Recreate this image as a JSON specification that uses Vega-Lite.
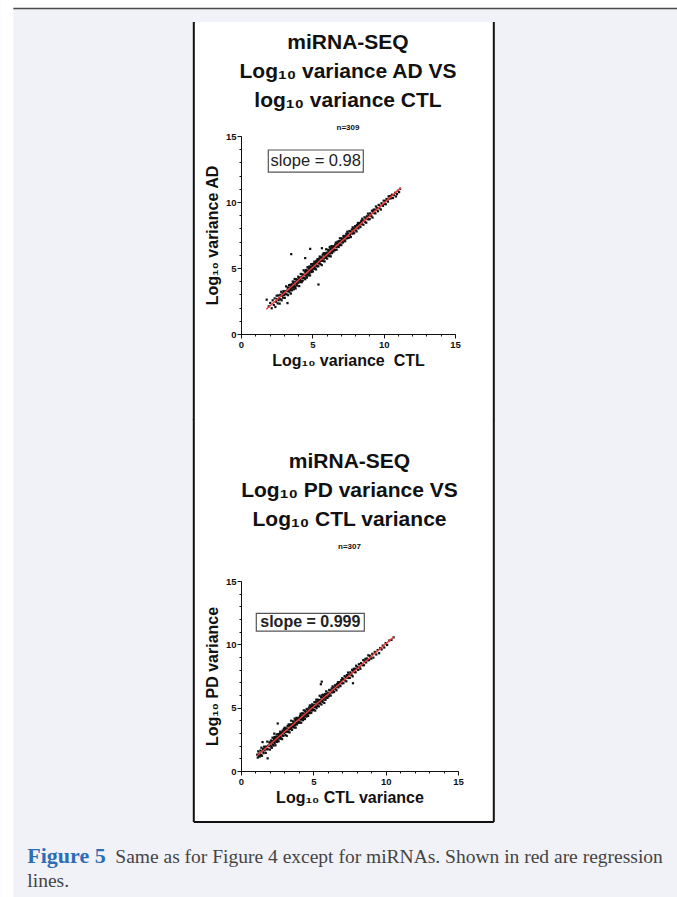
{
"$schema": "https://vega.github.io/schema/vega-lite/v6.json",
"background": "#f1f2f7",
"padding": 0,
"config": {
  "view": {"stroke": null},
  "font": "Liberation Sans",
  "axis": {"grid": false, "domainColor": "#111", "tickColor": "#111", "labelColor": "#111", "titleColor": "#111", "labelFont": "Liberation Sans", "labelFontSize": 9.5, "labelFontWeight": "bold", "titleFont": "Liberation Sans", "titleFontSize": 16, "titleFontWeight": "bold", "labelFlush": false, "domainWidth": 1, "tickWidth": 1}
},
"datasets": {
"ad": [
{"x":1.80,"y":2.60},{"x":1.95,"y":2.10},{"x":2.05,"y":2.35},{"x":2.15,"y":1.95},{"x":2.22,"y":2.55},{"x":2.30,"y":2.20},{"x":2.36,"y":2.70},{"x":2.41,"y":2.05},{"x":2.46,"y":2.45},{"x":2.50,"y":2.90},
{"x":2.53,"y":2.65},{"x":2.57,"y":2.32},{"x":2.61,"y":2.92},{"x":2.64,"y":2.56},{"x":2.68,"y":2.73},{"x":2.71,"y":2.30},{"x":2.75,"y":2.97},{"x":2.78,"y":2.63},{"x":2.82,"y":3.20},{"x":2.85,"y":2.55},{"x":2.88,"y":2.90},{"x":2.92,"y":3.09},{"x":2.95,"y":2.75},{"x":2.98,"y":3.25},{"x":3.01,"y":2.96},{"x":3.04,"y":3.13},{"x":3.07,"y":2.74},{"x":3.10,"y":3.24},{"x":3.13,"y":3.02},{"x":3.16,"y":3.61},{"x":3.19,"y":3.01},{"x":3.22,"y":3.29},{"x":3.25,"y":3.23},{"x":3.27,"y":3.51},{"x":3.30,"y":2.94},{"x":3.32,"y":3.51},{"x":3.35,"y":3.26},{"x":3.37,"y":3.70},{"x":3.40,"y":3.16},{"x":3.42,"y":3.46},{"x":3.44,"y":3.72},{"x":3.46,"y":3.33},{"x":3.48,"y":3.58},{"x":3.50,"y":3.06},{"x":3.52,"y":3.68},
{"x":3.54,"y":3.48},{"x":3.56,"y":3.77},{"x":3.58,"y":3.31},{"x":3.61,"y":3.62},{"x":3.63,"y":3.98},{"x":3.65,"y":3.53},{"x":3.67,"y":3.92},{"x":3.70,"y":3.39},{"x":3.72,"y":3.80},{"x":3.74,"y":3.69},{"x":3.76,"y":4.17},{"x":3.79,"y":3.57},{"x":3.81,"y":3.96},{"x":3.83,"y":3.45},{"x":3.85,"y":4.15},{"x":3.88,"y":3.86},{"x":3.90,"y":3.73},{"x":3.92,"y":4.12},{"x":3.94,"y":3.67},{"x":3.97,"y":4.02},{"x":3.99,"y":3.90},{"x":4.01,"y":4.34},{"x":4.03,"y":3.89},{"x":4.06,"y":4.17},{"x":4.08,"y":3.63},{"x":4.10,"y":4.28},{"x":4.12,"y":4.05},{"x":4.15,"y":4.17},{"x":4.17,"y":3.93},{"x":4.19,"y":4.55},{"x":4.21,"y":4.02},{"x":4.24,"y":4.33},{"x":4.26,"y":3.93},{"x":4.28,"y":4.52},{"x":4.30,"y":4.26},{"x":4.33,"y":4.05},{"x":4.35,"y":4.48},{"x":4.37,"y":4.27},{"x":4.39,"y":4.83},{"x":4.41,"y":4.25},{"x":4.43,"y":4.49},{"x":4.45,"y":4.24},{"x":4.47,"y":4.74},{"x":4.49,"y":4.48},{"x":4.50,"y":4.15},
{"x":4.52,"y":4.70},{"x":4.54,"y":4.47},{"x":4.56,"y":4.85},{"x":4.58,"y":4.36},{"x":4.60,"y":4.64},{"x":4.62,"y":4.27},{"x":4.64,"y":4.77},{"x":4.66,"y":5.06},{"x":4.68,"y":4.52},{"x":4.70,"y":4.78},{"x":4.72,"y":4.44},{"x":4.74,"y":4.95},{"x":4.76,"y":4.73},{"x":4.78,"y":5.10},{"x":4.80,"y":4.61},{"x":4.82,"y":4.93},{"x":4.84,"y":4.44},{"x":4.86,"y":5.11},{"x":4.88,"y":4.79},{"x":4.90,"y":4.96},{"x":4.92,"y":5.29},{"x":4.94,"y":4.69},{"x":4.96,"y":5.11},{"x":4.98,"y":4.86},{"x":5.00,"y":5.02},{"x":5.02,"y":5.30},{"x":5.04,"y":4.73},{"x":5.06,"y":5.15},{"x":5.08,"y":5.03},{"x":5.10,"y":5.32},{"x":5.12,"y":4.94},{"x":5.14,"y":5.48},{"x":5.16,"y":5.08},{"x":5.18,"y":5.30},{"x":5.20,"y":4.94},{"x":5.22,"y":5.41},{"x":5.24,"y":5.27},{"x":5.26,"y":4.89},{"x":5.28,"y":5.54},{"x":5.30,"y":5.16},{"x":5.32,"y":5.39},{"x":5.34,"y":5.13},{"x":5.36,"y":5.67},{"x":5.38,"y":5.36},{"x":5.40,"y":5.56},{"x":5.42,"y":5.13},{"x":5.44,"y":5.54},{"x":5.46,"y":5.35},{"x":5.48,"y":5.71},{"x":5.50,"y":5.44},
{"x":5.52,"y":5.87},{"x":5.54,"y":5.55},{"x":5.57,"y":5.30},{"x":5.59,"y":5.80},{"x":5.61,"y":5.55},{"x":5.63,"y":5.79},{"x":5.66,"y":5.22},{"x":5.68,"y":5.78},{"x":5.70,"y":5.57},{"x":5.72,"y":6.00},{"x":5.75,"y":5.79},{"x":5.77,"y":5.53},{"x":5.79,"y":6.12},{"x":5.81,"y":5.72},{"x":5.84,"y":6.03},{"x":5.86,"y":5.50},{"x":5.88,"y":6.12},{"x":5.90,"y":5.88},{"x":5.93,"y":6.00},{"x":5.95,"y":5.77},{"x":5.97,"y":6.42},{"x":5.99,"y":5.88},{"x":6.02,"y":6.16},{"x":6.04,"y":5.71},{"x":6.06,"y":6.15},{"x":6.08,"y":6.03},{"x":6.11,"y":6.38},{"x":6.13,"y":5.93},{"x":6.15,"y":6.32},{"x":6.17,"y":6.19},{"x":6.20,"y":5.90},{"x":6.22,"y":6.60},{"x":6.24,"y":6.09},{"x":6.26,"y":6.48},{"x":6.29,"y":5.88},{"x":6.31,"y":6.36},{"x":6.33,"y":6.25},{"x":6.35,"y":6.66},{"x":6.38,"y":6.13},{"x":6.40,"y":6.52},{"x":6.42,"y":6.62},{"x":6.44,"y":6.30},{"x":6.46,"y":6.52},{"x":6.48,"y":6.25},{"x":6.50,"y":6.65},
{"x":6.53,"y":6.39},{"x":6.55,"y":6.61},{"x":6.58,"y":6.35},{"x":6.60,"y":6.78},{"x":6.63,"y":6.60},{"x":6.65,"y":6.93},{"x":6.68,"y":6.58},{"x":6.70,"y":6.38},{"x":6.73,"y":6.86},{"x":6.75,"y":6.69},{"x":6.78,"y":7.00},{"x":6.80,"y":6.63},{"x":6.83,"y":6.85},{"x":6.85,"y":6.59},{"x":6.88,"y":7.03},{"x":6.90,"y":6.81},{"x":6.93,"y":7.25},{"x":6.95,"y":6.75},{"x":6.98,"y":7.05},{"x":7.00,"y":6.95},{"x":7.03,"y":6.73},{"x":7.05,"y":7.25},{"x":7.08,"y":6.96},{"x":7.10,"y":7.20},{"x":7.13,"y":7.11},{"x":7.15,"y":6.93},{"x":7.18,"y":7.43},{"x":7.20,"y":7.13},{"x":7.23,"y":7.27},{"x":7.25,"y":7.07},{"x":7.28,"y":7.42},{"x":7.30,"y":7.03},{"x":7.33,"y":7.39},{"x":7.35,"y":7.25},{"x":7.38,"y":7.59},{"x":7.40,"y":7.25},{"x":7.43,"y":7.41},{"x":7.45,"y":7.75},{"x":7.48,"y":7.27},{"x":7.50,"y":7.61},
{"x":7.53,"y":7.58},{"x":7.57,"y":7.30},{"x":7.60,"y":7.80},{"x":7.63,"y":7.50},{"x":7.67,"y":7.77},{"x":7.70,"y":7.35},{"x":7.73,"y":7.73},{"x":7.77,"y":7.92},{"x":7.80,"y":7.60},{"x":7.83,"y":8.08},{"x":7.87,"y":7.77},{"x":7.90,"y":7.97},{"x":7.93,"y":7.63},{"x":7.97,"y":8.00},{"x":8.00,"y":8.17},{"x":8.03,"y":7.86},{"x":8.07,"y":8.04},{"x":8.10,"y":7.77},{"x":8.13,"y":8.26},{"x":8.17,"y":8.09},{"x":8.20,"y":8.41},{"x":8.23,"y":8.00},{"x":8.27,"y":8.31},{"x":8.30,"y":8.19},{"x":8.33,"y":8.42},{"x":8.37,"y":8.10},{"x":8.40,"y":8.39},{"x":8.43,"y":8.57},{"x":8.47,"y":8.32},{"x":8.50,"y":8.73},
{"x":8.54,"y":8.59},{"x":8.58,"y":8.28},{"x":8.62,"y":8.57},{"x":8.66,"y":8.84},{"x":8.70,"y":8.50},{"x":8.74,"y":8.76},{"x":8.78,"y":8.43},{"x":8.82,"y":8.92},{"x":8.86,"y":8.71},{"x":8.90,"y":9.12},{"x":8.94,"y":8.69},{"x":8.98,"y":8.96},{"x":9.02,"y":8.70},{"x":9.06,"y":9.14},{"x":9.10,"y":9.02},{"x":9.14,"y":8.92},{"x":9.18,"y":9.34},{"x":9.22,"y":8.82},{"x":9.26,"y":9.26},{"x":9.30,"y":9.42},{"x":9.34,"y":9.16},{"x":9.38,"y":9.42},{"x":9.42,"y":9.14},{"x":9.46,"y":9.66},{"x":9.50,"y":9.40},
{"x":9.55,"y":9.55},{"x":9.60,"y":9.30},{"x":9.65,"y":9.78},{"x":9.70,"y":9.53},{"x":9.75,"y":9.71},{"x":9.80,"y":9.43},{"x":9.85,"y":9.91},{"x":9.90,"y":9.80},{"x":9.95,"y":9.71},{"x":10.00,"y":10.10},{"x":10.05,"y":9.85},{"x":10.10,"y":10.08},{"x":10.15,"y":9.83},{"x":10.20,"y":10.23},{"x":10.25,"y":10.18},{"x":10.30,"y":10.03},{"x":10.35,"y":10.43},{"x":10.40,"y":10.26},{"x":10.45,"y":10.45},{"x":10.50,"y":10.28},
{"x":10.58,"y":10.55},{"x":10.65,"y":10.30},{"x":10.72,"y":10.52},{"x":10.80,"y":10.70},{"x":10.86,"y":10.42},{"x":10.93,"y":10.60},{"x":11.00,"y":10.85},{"x":11.08,"y":10.75},{"x":11.15,"y":11.00},
{"x":3.52,"y":6.05},{"x":3.26,"y":2.34},{"x":4.50,"y":5.75},{"x":4.85,"y":6.45},{"x":5.43,"y":3.75},{"x":5.67,"y":6.50}
],
"pd": [
{"x":1.12,"y":1.29},{"x":1.16,"y":1.06},{"x":1.19,"y":1.55},{"x":1.23,"y":1.20},{"x":1.27,"y":1.37},{"x":1.30,"y":1.14},{"x":1.34,"y":1.61},{"x":1.38,"y":1.28},{"x":1.41,"y":1.84},{"x":1.45,"y":1.20},{"x":1.49,"y":1.56},{"x":1.52,"y":1.74},{"x":1.56,"y":1.41},{"x":1.60,"y":1.92},{"x":1.63,"y":1.63},{"x":1.67,"y":1.81},{"x":1.71,"y":1.43},{"x":1.74,"y":1.93},{"x":1.78,"y":1.72},{"x":1.82,"y":2.32},{"x":1.85,"y":1.72},{"x":1.89,"y":2.01},{"x":1.93,"y":1.96},{"x":1.96,"y":2.25},{"x":2.00,"y":1.69},
{"x":2.02,"y":2.25},{"x":2.04,"y":2.02},{"x":2.07,"y":2.41},{"x":2.09,"y":1.92},{"x":2.11,"y":2.20},{"x":2.13,"y":1.83},{"x":2.16,"y":2.34},{"x":2.18,"y":2.63},{"x":2.20,"y":2.09},{"x":2.22,"y":2.35},{"x":2.24,"y":2.01},{"x":2.27,"y":2.53},{"x":2.29,"y":2.31},{"x":2.31,"y":2.68},{"x":2.33,"y":2.19},{"x":2.36,"y":2.52},{"x":2.38,"y":2.03},{"x":2.40,"y":2.70},{"x":2.42,"y":2.38},{"x":2.44,"y":2.55},{"x":2.47,"y":2.89},{"x":2.49,"y":2.29},{"x":2.51,"y":2.71},{"x":2.53,"y":2.46},{"x":2.56,"y":2.63},{"x":2.58,"y":2.91},{"x":2.60,"y":2.34},{"x":2.62,"y":2.76},{"x":2.64,"y":2.64},{"x":2.67,"y":2.94},{"x":2.69,"y":2.56},{"x":2.71,"y":3.10},{"x":2.73,"y":2.70},{"x":2.76,"y":2.93},{"x":2.78,"y":2.57},{"x":2.80,"y":3.04},{"x":2.82,"y":2.90},{"x":2.84,"y":2.52},{"x":2.87,"y":3.18},{"x":2.89,"y":2.80},{"x":2.91,"y":3.03},{"x":2.93,"y":2.77},{"x":2.96,"y":3.32},{"x":2.98,"y":3.01},{"x":3.00,"y":3.21},
{"x":3.02,"y":3.42},{"x":3.04,"y":3.10},{"x":3.07,"y":2.85},{"x":3.09,"y":3.35},{"x":3.11,"y":3.10},{"x":3.13,"y":3.34},{"x":3.16,"y":2.77},{"x":3.18,"y":3.33},{"x":3.20,"y":3.12},{"x":3.22,"y":3.55},{"x":3.24,"y":3.33},{"x":3.27,"y":3.08},{"x":3.29,"y":3.67},{"x":3.31,"y":3.27},{"x":3.33,"y":3.57},{"x":3.36,"y":3.05},{"x":3.38,"y":3.67},{"x":3.40,"y":3.43},{"x":3.42,"y":3.54},{"x":3.44,"y":3.31},{"x":3.47,"y":3.97},{"x":3.49,"y":3.43},{"x":3.51,"y":3.70},{"x":3.53,"y":3.25},{"x":3.56,"y":3.70},{"x":3.58,"y":3.58},{"x":3.60,"y":3.92},{"x":3.62,"y":3.47},{"x":3.64,"y":3.86},{"x":3.67,"y":3.74},{"x":3.69,"y":3.44},{"x":3.71,"y":4.14},{"x":3.73,"y":3.63},{"x":3.76,"y":4.03},{"x":3.78,"y":3.42},{"x":3.80,"y":3.90},{"x":3.82,"y":3.79},{"x":3.84,"y":4.20},{"x":3.87,"y":3.67},{"x":3.89,"y":4.06},{"x":3.91,"y":4.16},{"x":3.93,"y":3.84},{"x":3.96,"y":4.07},{"x":3.98,"y":3.80},{"x":4.00,"y":4.20},
{"x":4.02,"y":3.89},{"x":4.04,"y":4.16},{"x":4.06,"y":3.82},{"x":4.08,"y":4.35},{"x":4.10,"y":4.11},{"x":4.12,"y":4.52},{"x":4.14,"y":4.06},{"x":4.16,"y":3.81},{"x":4.18,"y":4.39},{"x":4.20,"y":4.17},{"x":4.22,"y":4.55},{"x":4.24,"y":4.08},{"x":4.26,"y":4.34},{"x":4.28,"y":4.01},{"x":4.30,"y":4.54},{"x":4.32,"y":4.26},{"x":4.34,"y":4.79},{"x":4.36,"y":4.16},{"x":4.38,"y":4.52},{"x":4.40,"y":4.39},{"x":4.42,"y":4.10},{"x":4.44,"y":4.74},{"x":4.46,"y":4.36},{"x":4.48,"y":4.65},{"x":4.50,"y":4.53},{"x":4.52,"y":4.29},{"x":4.54,"y":4.90},{"x":4.56,"y":4.52},{"x":4.58,"y":4.68},{"x":4.60,"y":4.43},{"x":4.62,"y":4.85},{"x":4.64,"y":4.35},{"x":4.66,"y":4.79},{"x":4.68,"y":4.61},{"x":4.70,"y":5.01},{"x":4.72,"y":4.58},{"x":4.74,"y":4.76},{"x":4.76,"y":5.18},{"x":4.78,"y":4.57},{"x":4.80,"y":4.99},{"x":4.82,"y":4.80},{"x":4.84,"y":5.10},{"x":4.86,"y":4.60},{"x":4.88,"y":4.95},{"x":4.90,"y":4.79},{"x":4.92,"y":5.26},{"x":4.94,"y":4.89},{"x":4.96,"y":5.12},{"x":4.98,"y":4.80},{"x":5.00,"y":5.11},
{"x":5.02,"y":5.19},{"x":5.04,"y":4.84},{"x":5.07,"y":5.43},{"x":5.09,"y":5.06},{"x":5.11,"y":5.21},{"x":5.13,"y":4.77},{"x":5.16,"y":5.43},{"x":5.18,"y":5.08},{"x":5.20,"y":5.63},{"x":5.22,"y":4.97},{"x":5.24,"y":5.31},{"x":5.27,"y":5.49},{"x":5.29,"y":5.14},{"x":5.31,"y":5.63},{"x":5.33,"y":5.33},{"x":5.36,"y":5.50},{"x":5.38,"y":5.10},{"x":5.40,"y":5.59},{"x":5.42,"y":5.36},{"x":5.44,"y":5.94},{"x":5.47,"y":5.34},{"x":5.49,"y":5.61},{"x":5.51,"y":5.54},{"x":5.53,"y":5.82},{"x":5.56,"y":5.25},{"x":5.58,"y":5.82},{"x":5.60,"y":5.56},{"x":5.62,"y":6.00},{"x":5.64,"y":5.45},{"x":5.67,"y":5.76},{"x":5.69,"y":6.02},{"x":5.71,"y":5.63},{"x":5.73,"y":5.88},{"x":5.76,"y":5.37},{"x":5.78,"y":5.99},{"x":5.80,"y":5.79},{"x":5.82,"y":6.08},{"x":5.84,"y":5.62},{"x":5.87,"y":5.93},{"x":5.89,"y":6.29},{"x":5.91,"y":6.09},{"x":5.93,"y":5.81},{"x":5.96,"y":6.04},{"x":5.98,"y":5.77},{"x":6.00,"y":6.13},
{"x":6.03,"y":6.18},{"x":6.07,"y":5.90},{"x":6.10,"y":6.40},{"x":6.13,"y":6.10},{"x":6.17,"y":6.37},{"x":6.20,"y":5.95},{"x":6.23,"y":6.33},{"x":6.27,"y":6.52},{"x":6.30,"y":6.20},{"x":6.33,"y":6.68},{"x":6.37,"y":6.37},{"x":6.40,"y":6.57},{"x":6.43,"y":6.23},{"x":6.47,"y":6.60},{"x":6.50,"y":6.77},{"x":6.53,"y":6.46},{"x":6.57,"y":6.64},{"x":6.60,"y":6.37},{"x":6.63,"y":6.86},{"x":6.67,"y":6.69},{"x":6.70,"y":7.01},{"x":6.73,"y":6.60},{"x":6.77,"y":6.91},{"x":6.80,"y":6.79},{"x":6.83,"y":7.02},{"x":6.87,"y":6.70},{"x":6.90,"y":6.99},{"x":6.93,"y":7.17},{"x":6.97,"y":6.92},{"x":7.00,"y":7.33},
{"x":7.04,"y":7.24},{"x":7.08,"y":6.93},{"x":7.12,"y":7.22},{"x":7.16,"y":7.49},{"x":7.20,"y":7.15},{"x":7.24,"y":7.41},{"x":7.28,"y":7.08},{"x":7.32,"y":7.57},{"x":7.36,"y":7.36},{"x":7.40,"y":7.77},{"x":7.44,"y":7.34},{"x":7.48,"y":7.61},{"x":7.52,"y":7.35},{"x":7.56,"y":7.79},{"x":7.60,"y":7.67},{"x":7.64,"y":7.57},{"x":7.68,"y":7.99},{"x":7.72,"y":7.47},{"x":7.76,"y":7.91},{"x":7.80,"y":8.07},{"x":7.84,"y":7.81},{"x":7.88,"y":8.07},{"x":7.92,"y":7.79},{"x":7.96,"y":8.31},{"x":8.00,"y":8.05},
{"x":8.05,"y":8.20},{"x":8.10,"y":7.98},{"x":8.15,"y":8.43},{"x":8.20,"y":8.22},{"x":8.25,"y":8.07},{"x":8.30,"y":8.52},{"x":8.35,"y":8.43},{"x":8.40,"y":8.35},{"x":8.45,"y":8.75},{"x":8.50,"y":8.35},{"x":8.55,"y":8.67},{"x":8.60,"y":8.85},{"x":8.65,"y":8.57},{"x":8.70,"y":8.88},{"x":8.75,"y":8.75},{"x":8.80,"y":9.13},{"x":8.85,"y":8.75},{"x":8.90,"y":9.10},{"x":8.95,"y":9.00},{"x":9.00,"y":8.87},
{"x":9.08,"y":9.25},{"x":9.15,"y":8.95},{"x":9.25,"y":9.40},{"x":9.35,"y":9.20},{"x":9.45,"y":9.55},{"x":9.55,"y":9.30},{"x":9.62,"y":9.70},{"x":9.72,"y":9.60},{"x":9.80,"y":9.90},{"x":9.90,"y":9.75},{"x":10.00,"y":10.10},{"x":10.10,"y":9.95},{"x":10.25,"y":10.30},{"x":10.40,"y":10.35},{"x":10.55,"y":10.55},
{"x":1.49,"y":2.28},{"x":1.84,"y":1.00},{"x":2.54,"y":3.75},{"x":5.58,"y":7.05},{"x":5.52,"y":6.85},{"x":7.74,"y":6.93},{"x":2.30,"y":2.95}
]
},
"bounds": "flush",
"spacing": 247,
"vconcat": [
{
  "width": 214,
  "height": 198,
  "title": {"text": ["miRNA-SEQ", "Log₁₀ variance AD VS", "log₁₀ variance CTL"], "subtitle": "n=309", "anchor": "middle", "frame": "group", "font": "Liberation Sans", "fontSize": 21, "fontWeight": "bold", "lineHeight": 29, "color": "#111", "subtitleFont": "Liberation Sans", "subtitleFontSize": 8, "subtitleFontWeight": "bold", "subtitleColor": "#111", "subtitlePadding": 13, "offset": -131.5, "zindex": 2},
  "resolve": {"axis": {"x": "independent", "y": "independent"}},
  "layer": [
    {"data": {"values": [{}]}, "mark": {"type": "rect", "fill": "#ffffff", "strokeWidth": 0},
     "encoding": {"x": {"datum": -16.872, "type": "quantitative", "scale": {"domain": [0, 15], "nice": false}, "axis": null}, "x2": {"datum": 30.577},
                  "y": {"datum": 25.303, "type": "quantitative", "scale": {"domain": [0, 15], "nice": false}, "axis": null}, "y2": {"datum": 24.697}}},
    {"data": {"values": [{}]}, "mark": {"type": "rect", "fill": "#ffffff", "strokeWidth": 0},
     "encoding": {"x": {"datum": -16.872, "type": "quantitative", "scale": {"domain": [0, 15], "nice": false}, "axis": null}, "x2": {"datum": -15.96},
                  "y": {"datum": 24.697, "type": "quantitative", "scale": {"domain": [0, 15], "nice": false}, "axis": null}, "y2": {"datum": -6.515}}},
    {"data": {"values": [{}]}, "mark": {"type": "rule", "color": "#4a4a4a", "strokeWidth": 1.5},
     "encoding": {"x": {"datum": -15.96, "type": "quantitative", "scale": {"domain": [0, 15], "nice": false}, "axis": null}, "x2": {"datum": 30.577},
                  "y": {"datum": 24.659, "type": "quantitative", "scale": {"domain": [0, 15], "nice": false}, "axis": null}}},
    {"data": {"values": [{}]}, "mark": {"type": "rect", "fill": "#ffffff", "strokeWidth": 0},
     "encoding": {"x": {"datum": -3.343, "type": "quantitative", "scale": {"domain": [0, 15], "nice": false}, "axis": null}, "x2": {"datum": 17.755},
                  "y": {"datum": 23.636, "type": "quantitative", "scale": {"domain": [0, 15], "nice": false}, "axis": null}, "y2": {"datum": -6.515}}},
    {"data": {"values": [{}]}, "mark": {"type": "rule", "color": "#111", "strokeWidth": 2},
     "encoding": {"x": {"datum": -3.308, "type": "quantitative", "scale": {"domain": [0, 15], "nice": false}, "axis": null},
                  "y": {"datum": 23.636, "type": "quantitative", "scale": {"domain": [0, 15], "nice": false}, "axis": null}, "y2": {"datum": -6.515}}},
    {"data": {"values": [{}]}, "mark": {"type": "rule", "color": "#111", "strokeWidth": 2},
     "encoding": {"x": {"datum": 17.72, "type": "quantitative", "scale": {"domain": [0, 15], "nice": false}, "axis": null},
                  "y": {"datum": 23.636, "type": "quantitative", "scale": {"domain": [0, 15], "nice": false}, "axis": null}, "y2": {"datum": -6.515}}},
    {"data": {"values": [{}]}, "mark": {"type": "rect", "fill": "#ffffff", "stroke": "#555", "strokeWidth": 1.2},
     "encoding": {"x": {"datum": 1.914, "type": "quantitative", "scale": {"domain": [0, 15], "nice": false}, "axis": null}, "x2": {"datum": 8.573},
                  "y": {"datum": 13.94, "type": "quantitative", "scale": {"domain": [0, 15], "nice": false}, "axis": null}, "y2": {"datum": 12.27}}},
    {"data": {"values": [{}]}, "mark": {"type": "text", "font": "Liberation Sans", "fontSize": 16.5, "color": "#222", "align": "center", "baseline": "middle"},
     "encoding": {"text": {"datum": "slope = 0.98"}, "x": {"datum": 5.243, "type": "quantitative", "scale": {"domain": [0, 15], "nice": false}, "axis": null},
                  "y": {"datum": 13.106, "type": "quantitative", "scale": {"domain": [0, 15], "nice": false}, "axis": null}}},
    {"data": {"name": "ad"}, "mark": {"type": "square", "size": 5, "color": "#111", "opacity": 1},
     "encoding": {
       "x": {"field": "x", "type": "quantitative", "scale": {"domain": [0, 15], "nice": false}, "axis": {"zindex": 1, "orient": "bottom", "values": [0, 5, 10, 15], "tickSize": 4, "labelPadding": 1, "title": "Log₁₀ variance\u00a0 CTL", "titlePadding": 4}},
       "y": {"field": "y", "type": "quantitative", "scale": {"domain": [0, 15], "nice": false}, "axis": {"zindex": 1, "orient": "left", "values": [0, 5, 10, 15], "tickSize": 4, "labelPadding": 1, "title": "Log₁₀ variance AD", "titlePadding": 5}}}},
    {"data": {"name": "ad"}, "transform": [{"regression": "y", "on": "x", "extent": [1.77, 11.2]}], "mark": {"type": "line", "color": "#f03c3c", "strokeWidth": 1.4},
     "encoding": {
       "x": {"field": "x", "type": "quantitative", "scale": {"domain": [0, 15], "nice": false}, "axis": {"zindex": 1, "orient": "bottom", "values": [0,1,2,3,4,5,6,7,8,9,10,11,12,13,14,15], "labels": false, "domain": false, "tickSize": 2, "title": null}},
       "y": {"field": "y", "type": "quantitative", "scale": {"domain": [0, 15], "nice": false}, "axis": {"zindex": 1, "orient": "left", "values": [0,1,2,3,4,5,6,7,8,9,10,11,12,13,14,15], "labels": false, "domain": false, "tickSize": 2, "title": null}}}}
  ]
},
{
  "bounds": "flush",
  "spacing": 60,
  "vconcat": [
    {
      "width": 217,
      "height": 190,
      "title": {"text": ["miRNA-SEQ", "Log₁₀ PD variance VS", "Log₁₀ CTL variance"], "subtitle": "n=307", "anchor": "middle", "frame": "group", "font": "Liberation Sans", "fontSize": 21, "fontWeight": "bold", "lineHeight": 29, "color": "#111", "subtitleFont": "Liberation Sans", "subtitleFontSize": 8, "subtitleFontWeight": "bold", "subtitleColor": "#111", "subtitlePadding": 13, "offset": -132.5, "zindex": 2},
      "resolve": {"axis": {"x": "independent", "y": "independent"}},
      "layer": [
        {"data": {"values": [{}]}, "mark": {"type": "rect", "fill": "#ffffff", "strokeWidth": 0},
         "encoding": {"x": {"datum": -3.297, "type": "quantitative", "scale": {"domain": [0, 15], "nice": false}, "axis": null}, "x2": {"datum": 17.509},
                      "y": {"datum": 27.789, "type": "quantitative", "scale": {"domain": [0, 15], "nice": false}, "axis": null}, "y2": {"datum": -4.026}}},
        {"data": {"values": [{}]}, "mark": {"type": "rect", "fill": "#ffffff", "strokeWidth": 0},
         "encoding": {"x": {"datum": -16.638, "type": "quantitative", "scale": {"domain": [0, 15], "nice": false}, "axis": null}, "x2": {"datum": -15.74},
                      "y": {"datum": 27.789, "type": "quantitative", "scale": {"domain": [0, 15], "nice": false}, "axis": null}, "y2": {"datum": -9.947}}},
        {"data": {"values": [{}]}, "mark": {"type": "rule", "color": "#111", "strokeWidth": 2},
         "encoding": {"x": {"datum": -3.263, "type": "quantitative", "scale": {"domain": [0, 15], "nice": false}, "axis": null},
                      "y": {"datum": 27.789, "type": "quantitative", "scale": {"domain": [0, 15], "nice": false}, "axis": null}, "y2": {"datum": -4.026}}},
        {"data": {"values": [{}]}, "mark": {"type": "rule", "color": "#111", "strokeWidth": 2},
         "encoding": {"x": {"datum": 17.474, "type": "quantitative", "scale": {"domain": [0, 15], "nice": false}, "axis": null},
                      "y": {"datum": 27.789, "type": "quantitative", "scale": {"domain": [0, 15], "nice": false}, "axis": null}, "y2": {"datum": -4.026}}},
        {"data": {"values": [{}]}, "mark": {"type": "rule", "color": "#111", "strokeWidth": 2},
         "encoding": {"x": {"datum": -3.263, "type": "quantitative", "scale": {"domain": [0, 15], "nice": false}, "axis": null}, "x2": {"datum": 17.474},
                      "y": {"datum": -4.026, "type": "quantitative", "scale": {"domain": [0, 15], "nice": false}, "axis": null}}},
        {"data": {"values": [{}]}, "mark": {"type": "rect", "fill": "#ffffff", "stroke": "#555", "strokeWidth": 1.2},
         "encoding": {"x": {"datum": 1.058, "type": "quantitative", "scale": {"domain": [0, 15], "nice": false}, "axis": null}, "x2": {"datum": 8.523},
                      "y": {"datum": 12.45, "type": "quantitative", "scale": {"domain": [0, 15], "nice": false}, "axis": null}, "y2": {"datum": 11.05}}},
        {"data": {"values": [{}]}, "mark": {"type": "text", "font": "Liberation Sans", "fontSize": 16, "fontWeight": "bold", "color": "#222", "align": "center", "baseline": "middle"},
         "encoding": {"text": {"datum": "slope = 0.999"}, "x": {"datum": 4.79, "type": "quantitative", "scale": {"domain": [0, 15], "nice": false}, "axis": null},
                      "y": {"datum": 11.76, "type": "quantitative", "scale": {"domain": [0, 15], "nice": false}, "axis": null}}},
        {"data": {"name": "pd"}, "mark": {"type": "square", "size": 5, "color": "#111", "opacity": 1},
         "encoding": {
           "x": {"field": "x", "type": "quantitative", "scale": {"domain": [0, 15], "nice": false}, "axis": {"zindex": 1, "orient": "bottom", "values": [0, 5, 10, 15], "tickSize": 4, "labelPadding": 1, "title": "Log₁₀ CTL variance", "titlePadding": 4}},
           "y": {"field": "y", "type": "quantitative", "scale": {"domain": [0, 15], "nice": false}, "axis": {"zindex": 1, "orient": "left", "values": [0, 5, 10, 15], "tickSize": 4, "labelPadding": 1, "title": "Log₁₀ PD variance", "titlePadding": 5}}}},
        {"data": {"name": "pd"}, "transform": [{"regression": "y", "on": "x", "extent": [1.11, 10.57]}], "mark": {"type": "line", "color": "#f03c3c", "strokeWidth": 1.4},
         "encoding": {
           "x": {"field": "x", "type": "quantitative", "scale": {"domain": [0, 15], "nice": false}, "axis": {"zindex": 1, "orient": "bottom", "values": [0,1,2,3,4,5,6,7,8,9,10,11,12,13,14,15], "labels": false, "domain": false, "tickSize": 2, "title": null}},
           "y": {"field": "y", "type": "quantitative", "scale": {"domain": [0, 15], "nice": false}, "axis": {"zindex": 1, "orient": "left", "values": [0,1,2,3,4,5,6,7,8,9,10,11,12,13,14,15], "labels": false, "domain": false, "tickSize": 2, "title": null}}}}
      ]
    },
    {
      "bounds": "flush",
      "spacing": 0,
      "hconcat": [
        {"width": 1, "height": 1, "data": {"values": [{}]}, "mark": {"type": "point", "opacity": 0}, "encoding": {},
         "title": {"text": "Figure 5", "subtitle": "lines.", "orient": "bottom", "anchor": "start", "frame": "group", "dx": -213.7, "dy": -2, "offset": 14, "font": "Liberation Serif", "fontSize": 22, "fontWeight": "bold", "color": "#2d6db4", "subtitleFont": "Liberation Serif", "subtitleFontSize": 19.5, "subtitleFontWeight": "normal", "subtitleColor": "#444", "subtitlePadding": 4}},
        {"width": 1, "height": 1, "data": {"values": [{}]}, "mark": {"type": "point", "opacity": 0}, "encoding": {},
         "title": {"text": "Same as for Figure 4 except for miRNAs. Shown in red are regression", "orient": "bottom", "anchor": "start", "frame": "group", "dx": -126.7, "offset": 14, "font": "Liberation Serif", "fontSize": 19.5, "fontWeight": "normal", "color": "#444"}}
      ]
    }
  ]
}
]
}
